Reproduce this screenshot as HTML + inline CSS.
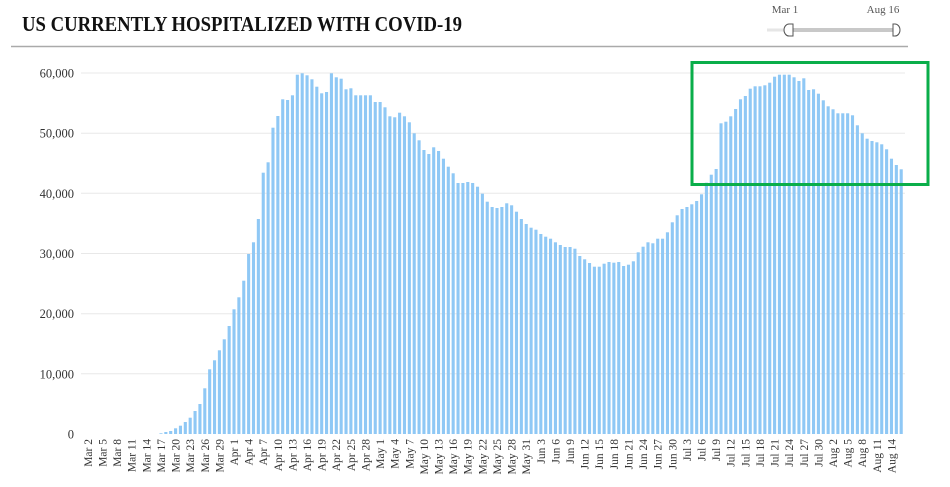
<!DOCTYPE html>
<html><head><meta charset="utf-8"><style>
html,body{margin:0;padding:0;background:#fff;width:950px;height:487px;overflow:hidden}
svg{display:block;font-family:"Liberation Serif",serif}
</style></head><body>
<svg id="s" width="950" height="487" viewBox="0 0 950 487" xmlns="http://www.w3.org/2000/svg">
<text x="22" y="31" font-size="21" font-weight="bold" fill="#111" textLength="440" lengthAdjust="spacingAndGlyphs">US CURRENTLY HOSPITALIZED WITH COVID-19</text>
<line x1="11" y1="46.5" x2="908" y2="46.5" stroke="#aaa" stroke-width="1.5"/>
<text x="785" y="13" font-size="11" fill="#555" text-anchor="middle">Mar 1</text>
<text x="883" y="13" font-size="11" fill="#555" text-anchor="middle">Aug 16</text>
<rect x="767" y="28.5" width="26" height="3" fill="#e6e6e6"/>
<rect x="790" y="28" width="104" height="4" fill="#c8c8c8"/>
<path d="M793 24 L789 24 A5 6 0 0 0 789 36 L793 36 Z" fill="#fff" stroke="#555" stroke-width="1"/>
<path d="M893 24 L895 24 A5 6 0 0 1 895 36 L893 36 Z" fill="#fff" stroke="#555" stroke-width="1"/>
<g id="g"></g>
<rect x="692" y="62.5" width="236" height="122" fill="none" stroke="#0aae4a" stroke-width="3"/>
</svg>
<script>
(function(){
var NS='http://www.w3.org/2000/svg';
var g=document.getElementById('g');
function el(tag,attrs,txt){var e=document.createElementNS(NS,tag);for(var k in attrs)e.setAttribute(k,attrs[k]);if(txt!==undefined)e.textContent=txt;g.appendChild(e);return e;}
var base=434,pp=361/60000;
for(var k=0;k<=6;k++){var y=base-k*10000*pp;
 if(k>0)el('line',{x1:81,x2:905,y1:y.toFixed(1),y2:y.toFixed(1),stroke:'#e8e8e8','stroke-width':1});
 el('text',{x:74,y:(y+4.5).toFixed(1),'font-size':12.5,fill:'#333','text-anchor':'end'},k==0?'0':(k*10)+',000');}
var z={16:1120,17:1116,18:1113,19:1105,20:1097,21:1086,22:1073,23:1053,24:1032,25:985,26:928,27:901,28:871,29:838,30:798,31:748,32:712,33:662,34:582,35:547,36:477,37:338,38:307,39:203,40:168,41:118,42:120,43:106,44:44,45:40,46:46,47:58,48:80,49:100,50:96,51:40,52:52,53:56,54:88,55:85,56:106,57:106,58:106,59:106,60:126,61:126,62:142,63:169,64:172,65:158,66:169,67:187,68:220,69:241,70:270,71:282,
72:262,73:273,74:296,75:320,76:340,77:369,78:369,79:366,80:369,81:380,82:401,83:425,84:441,85:444,86:441,87:430,88:436,89:455,90:477,91:492,92:503,93:509,94:522,95:530,96:536,97:547,98:555,99:561,100:561,101:566,102:588,103:598,104:609,105:620,106:620,107:611,108:606,109:608,110:606,111:618,112:614,113:604,114:577,115:560,116:547,117:550,118:536,119:536,120:517,121:487,122:466,123:447,124:441,125:433,126:423,127:403,128:368,129:344,130:327,131:190,132:185,133:169,134:147,135:118,136:108,137:86,138:79,139:79,140:76,141:68,142:50,143:44,144:44,145:44,146:52,147:63,148:55,149:90,150:88,151:101,152:121,153:139,154:148,155:160,156:160,157:160,158:166,159:196,160:220,161:236,162:243,163:247,164:253,165:268,166:296,167:315,168:328};
for(var i=0;i<169;i++){var x=83+4.87*i;
 if(z[i]!==undefined){var top=60+z[i]/3;el('rect',{x:(x-1.5).toFixed(2),y:top.toFixed(1),width:3.1,height:(base-top).toFixed(1),fill:'#8fc8f5'});}}
var mn=['Mar','Apr','May','Jun','Jul','Aug'],md=[31,30,31,30,31,31];
for(var i=1;i<=166;i+=3){var x=83+4.87*i;
 var d=i,m=0;while(d>=md[m]){d-=md[m];m++;}
 el('text',{transform:'translate('+(x+4).toFixed(1)+',439) rotate(-90)','font-size':11.5,fill:'#333','text-anchor':'end'},mn[m]+' '+(d+1));}
})();
</script>
</body></html>
